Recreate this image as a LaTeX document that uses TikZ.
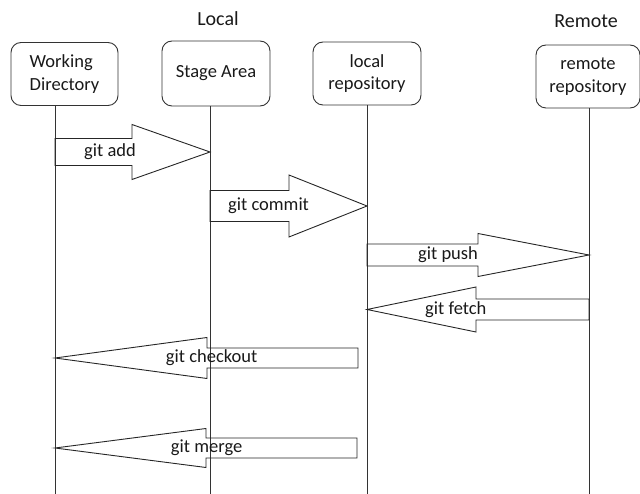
\documentclass[tikz,border=0pt]{standalone}
\usepackage{fontspec}
\setmainfont{Carlito}
\usetikzlibrary{calc}
% tail, tip, shaft half width, head half width, head length, label pos, label
\newcommand{\gitarrow}[7]{%
	\draw[blockarrow] ($(#1)+(0,#3)$) -- ($(#2)!#5!(#1)+(0,#3)$) -- ($(#2)!#5!(#1)+(0,#4)$) -- (#2)
		-- ($(#2)!#5!(#1)+(0,-#4)$) -- ($(#2)!#5!(#1)+(0,-#3)$) -- ($(#1)+(0,-#3)$) -- cycle;
	\node[gitlabel] at ($(#1)!#6!(#2)$) {#7};}

\begin{document}
\begin{tikzpicture}[x=1pt, y=-1pt,
	lane/.style={draw=black!80, line width=0.9pt, rounded corners=10pt, inner sep=2pt, text=black!90, font=\fontsize{18.5}{22.5}\selectfont},
	lifeline/.style={draw=black!80, line width=0.9pt},
	blockarrow/.style={draw=black!85, line width=0.9pt, line join=miter},
	gitlabel/.style={inner sep=0pt, text=black!90, font=\fontsize{18.5}{22.5}\selectfont},
	side/.style={inner sep=0pt, text=black!90, font=\fontsize{20}{24}\selectfont}]
	\useasboundingbox (0,0) rectangle (640,494);
	\node[side] (local) at (218,19) {Local};
	\node[side] (remote) at (586,21.5) {Remote};
	\node[lane, minimum width=107pt, minimum height=63pt, align=left] (wd) at (64.5,74) {Working\\Directory};
	\node[lane, minimum width=108pt, minimum height=65pt, align=center] (sa) at (216,73.5) {Stage Area};
	\node[lane, minimum width=108pt, minimum height=63pt, align=center] (lr) at (367,73.5) {local\\repository};
	\node[lane, minimum width=104pt, minimum height=63pt, align=center] (rr) at (588,76.5) {remote\\repository};
	\coordinate (wd-l) at (55,494);
	\coordinate (sa-l) at (210,494);
	\coordinate (lr-l) at (367,494);
	\coordinate (rr-l) at (589,494);
	\coordinate (co-tail) at (358,358);
	\coordinate (mg-tail) at (357,448);
	\draw[lifeline] (wd-l |- wd.south) -- (wd-l);
	\draw[lifeline] (sa-l |- sa.south) -- (sa-l);
	\draw[lifeline] (lr-l |- lr.south) -- (lr-l);
	\draw[lifeline] (rr-l |- rr.south) -- (rr-l);
	\gitarrow{wd-l |- 0,152}{sa-l |- 0,152}{13.5}{27.5}{78pt}{0.355}{git add}
	\gitarrow{sa-l |- 0,206}{lr-l |- 0,206}{15.5}{31}{78pt}{0.373}{git commit}
	\gitarrow{lr-l |- 0,255}{rr-l |- 0,255}{11}{21.5}{111pt}{0.365}{git push}
	\gitarrow{rr-l |- 0,309.5}{lr-l |- 0,309.5}{10.5}{22.5}{109pt}{0.6}{git fetch}
	\gitarrow{co-tail}{wd-l |- 0,358}{10}{20.5}{152pt}{0.483}{git checkout}
	\gitarrow{mg-tail}{wd-l |- 0,448}{10}{19.5}{151pt}{0.498}{git merge}
\end{tikzpicture}
\end{document}
